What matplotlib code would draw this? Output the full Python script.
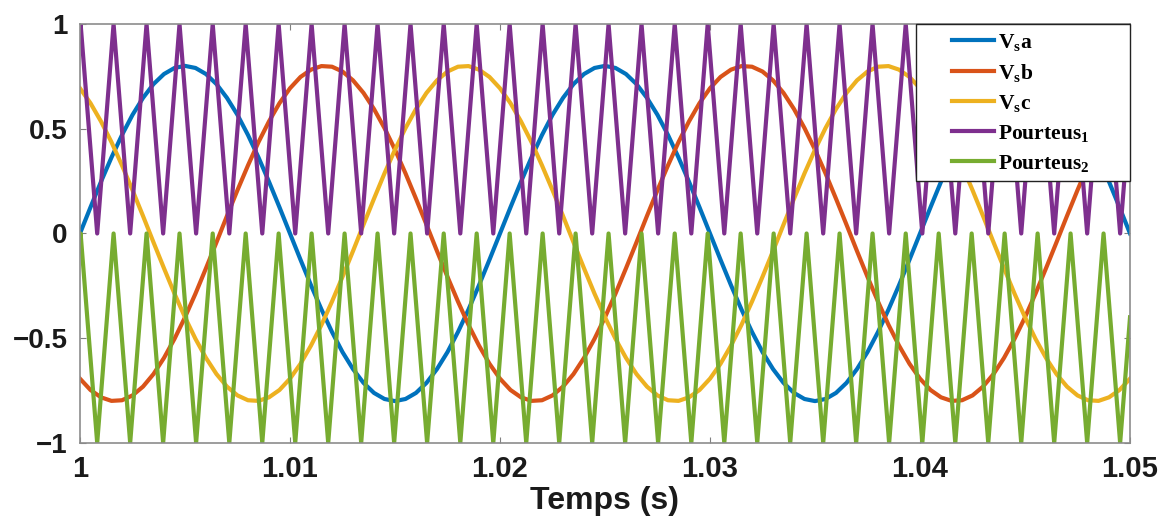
import numpy as np
import matplotlib.pyplot as plt
from matplotlib.lines import Line2D
from matplotlib.legend_handler import HandlerLine2D

plt.rcParams['font.family'] = 'Liberation Sans'
plt.rcParams['font.weight'] = 'bold'
plt.rcParams['mathtext.fontset'] = 'custom'
plt.rcParams['mathtext.rm'] = 'Liberation Serif:bold'
plt.rcParams['mathtext.it'] = 'Liberation Serif:bold'
plt.rcParams['mathtext.bf'] = 'Liberation Serif:bold'

# sine references, sampled every 0.5 ms from t = 1.000 s to 1.050 s
t_sine = np.linspace(1.0, 1.05, 101)
vsa = [0.000, 0.125, 0.247, 0.363, 0.470, 0.566, 0.647, 0.713, 0.761, 0.790,
       0.800, 0.790, 0.761, 0.713, 0.647, 0.566, 0.470, 0.363, 0.247, 0.125,
       0.000, -0.125, -0.247, -0.363, -0.470, -0.566, -0.647, -0.713, -0.761, -0.790,
       -0.800, -0.790, -0.761, -0.713, -0.647, -0.566, -0.470, -0.363, -0.247, -0.125,
       0.000, 0.125, 0.247, 0.363, 0.470, 0.566, 0.647, 0.713, 0.761, 0.790,
       0.800, 0.790, 0.761, 0.713, 0.647, 0.566, 0.470, 0.363, 0.247, 0.125,
       0.000, -0.125, -0.247, -0.363, -0.470, -0.566, -0.647, -0.713, -0.761, -0.790,
       -0.800, -0.790, -0.761, -0.713, -0.647, -0.566, -0.470, -0.363, -0.247, -0.125,
       0.000, 0.125, 0.247, 0.363, 0.470, 0.566, 0.647, 0.713, 0.761, 0.790,
       0.800, 0.790, 0.761, 0.713, 0.647, 0.566, 0.470, 0.363, 0.247, 0.125,
       0.000]
vsb = [-0.693, -0.747, -0.782, -0.799, -0.796, -0.773, -0.731, -0.671, -0.594, -0.503,
       -0.400, -0.287, -0.166, -0.042, 0.084, 0.207, 0.325, 0.436, 0.535, 0.622,
       0.693, 0.747, 0.782, 0.799, 0.796, 0.773, 0.731, 0.671, 0.594, 0.503,
       0.400, 0.287, 0.166, 0.042, -0.084, -0.207, -0.325, -0.436, -0.535, -0.622,
       -0.693, -0.747, -0.782, -0.799, -0.796, -0.773, -0.731, -0.671, -0.594, -0.503,
       -0.400, -0.287, -0.166, -0.042, 0.084, 0.207, 0.325, 0.436, 0.535, 0.622,
       0.693, 0.747, 0.782, 0.799, 0.796, 0.773, 0.731, 0.671, 0.594, 0.503,
       0.400, 0.287, 0.166, 0.042, -0.084, -0.207, -0.325, -0.436, -0.535, -0.622,
       -0.693, -0.747, -0.782, -0.799, -0.796, -0.773, -0.731, -0.671, -0.594, -0.503,
       -0.400, -0.287, -0.166, -0.042, 0.084, 0.207, 0.325, 0.436, 0.535, 0.622,
       0.693]
vsc = [0.693, 0.622, 0.535, 0.436, 0.325, 0.207, 0.084, -0.042, -0.166, -0.287,
       -0.400, -0.503, -0.594, -0.671, -0.731, -0.773, -0.796, -0.799, -0.782, -0.747,
       -0.693, -0.622, -0.535, -0.436, -0.325, -0.207, -0.084, 0.042, 0.166, 0.287,
       0.400, 0.503, 0.594, 0.671, 0.731, 0.773, 0.796, 0.799, 0.782, 0.747,
       0.693, 0.622, 0.535, 0.436, 0.325, 0.207, 0.084, -0.042, -0.166, -0.287,
       -0.400, -0.503, -0.594, -0.671, -0.731, -0.773, -0.796, -0.799, -0.782, -0.747,
       -0.693, -0.622, -0.535, -0.436, -0.325, -0.207, -0.084, 0.042, 0.166, 0.287,
       0.400, 0.503, 0.594, 0.671, 0.731, 0.773, 0.796, 0.799, 0.782, 0.747,
       0.693, 0.622, 0.535, 0.436, 0.325, 0.207, 0.084, -0.042, -0.166, -0.287,
       -0.400, -0.503, -0.594, -0.671, -0.731, -0.773, -0.796, -0.799, -0.782, -0.747,
       -0.693]

# triangular carriers: vertex times (peak, trough, peak, ...)
t_carrier = [1.00000,
             1.00003, 1.00082, 1.00160, 1.00239, 1.00317, 1.00396, 1.00474, 1.00553,
             1.00632, 1.00711, 1.00789, 1.00868, 1.00946, 1.01025, 1.01103, 1.01182,
             1.01260, 1.01339, 1.01417, 1.01496, 1.01574, 1.01653, 1.01732, 1.01811,
             1.01889, 1.01968, 1.02046, 1.02125, 1.02203, 1.02282, 1.02360, 1.02439,
             1.02517, 1.02596, 1.02674, 1.02753, 1.02832, 1.02911, 1.02989, 1.03068,
             1.03146, 1.03225, 1.03303, 1.03382, 1.03460, 1.03539, 1.03617, 1.03696,
             1.03774, 1.03853, 1.03932, 1.04011, 1.04089, 1.04168, 1.04246, 1.04325,
             1.04403, 1.04482, 1.04560, 1.04639, 1.04717, 1.04796, 1.04874, 1.04953,
             1.05000]
carrier_1 = [0.95] + [1.0, 0.0] * 32 + [0.6]
carrier_2 = [-0.05] + [0.0, -1.0] * 32 + [-0.4]

labels = [r'$\mathbf{V_s a}$', r'$\mathbf{V_s b}$', r'$\mathbf{V_s c}$',
          r'$\mathbf{Pourteus_1}$', r'$\mathbf{Pourteus_2}$']
colors = ['#0072BD', '#D95319', '#EDB120', '#7E2F8E', '#77AC30']
x_ticks = [1.0, 1.01, 1.02, 1.03, 1.04, 1.05]
x_ticklabels = ['1', '1.01', '1.02', '1.03', '1.04', '1.05']
y_ticks = [-1, -0.5, 0, 0.5, 1]
y_ticklabels = ['\u22121', '\u22120.5', '0', '0.5', '1']


class PaddedLine(HandlerLine2D):
    # legend line drawn only on the right part of the handle box
    def get_xdata(self, legend, xdescent, ydescent, width, height, fontsize):
        x0 = -xdescent + 0.41 * width
        x1 = -xdescent + width
        return np.array([x0, x1]), np.array([(x0 + x1) / 2])


fig = plt.figure(figsize=(11.71, 5.28), dpi=100)
ax = fig.add_axes([0.0683, 0.161, 0.8967, 0.7936])

lw = 3.0
ax.plot(t_sine, vsa, color=colors[0], lw=lw, label=labels[0])
ax.plot(t_sine, vsb, color=colors[1], lw=lw, label=labels[1])
ax.plot(t_sine, vsc, color=colors[2], lw=lw, label=labels[2])
ax.plot(t_carrier, carrier_1, color=colors[3], lw=lw, label=labels[3])
ax.plot(t_carrier, carrier_2, color=colors[4], lw=lw, label=labels[4])

ax.set_xlim(1.0, 1.05)
ax.set_ylim(-1, 1)
ax.set_xticks(x_ticks)
ax.set_xticklabels(x_ticklabels)
ax.set_yticks(y_ticks)
ax.set_yticklabels(y_ticklabels)
ax.tick_params(direction='in', length=4, width=0.8, color='#808080',
               top=True, right=True, labelsize=20, labelcolor='#1a1a1a', pad=9)
ax.tick_params(axis='x', labelsize=21)
for s in ax.spines.values():
    s.set_color('#8c8c8c')
    s.set_linewidth(1.2)

ax.set_xlabel('Temps (s)', fontsize=23, fontweight='bold', color='#1a1a1a', labelpad=2)

leg = ax.legend(loc='upper left', bbox_to_anchor=(0.796, 0.0, 0.204, 1.0),
                mode='expand', borderaxespad=0, fontsize=15.5,
                handlelength=3.3, handletextpad=0.15, labelspacing=0.42,
                borderpad=0.35, fancybox=False, framealpha=1, edgecolor='#222222',
                handler_map={Line2D: PaddedLine()})
leg.get_frame().set_linewidth(1.0)

fig.savefig('out.png', dpi=100)
